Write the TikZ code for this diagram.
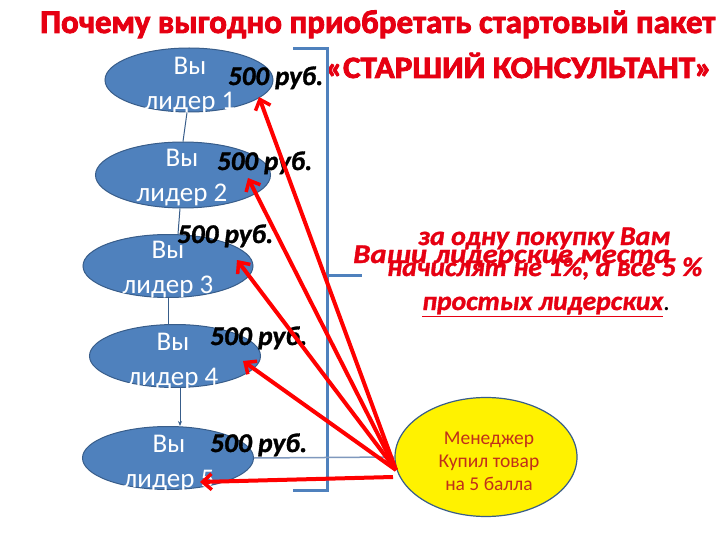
\documentclass[tikz,border=0pt]{standalone}
\usepackage{fontspec}
\setmainfont{Carlito}
\newfontfamily\heavyfont[BoldFeatures={FakeBold=2.5}]{Carlito}
\newfontfamily\semiheavy[BoldFeatures={FakeBold=1.2},BoldItalicFeatures={FakeBold=1.2}]{Carlito}
\usepackage{graphicx}
\usetikzlibrary{shapes.geometric,arrows.meta}
\definecolor{lblue}{HTML}{4F81BD}
\definecolor{dblue}{HTML}{385D8A}
\definecolor{tred}{HTML}{E60012}
\definecolor{mred}{HTML}{C0301A}
\definecolor{gline}{HTML}{7F98BD}
\begin{document}
\begin{tikzpicture}[x=1pt,y=-1pt,
  leader/.style={ellipse, draw=dblue, fill=lblue, line width=1pt, inner sep=0pt},
  ltext/.style={text=white, align=center, font=\fontsize{27}{35}\selectfont},
  rub/.style={font=\fontsize{27}{28}\selectfont\semiheavy\bfseries\itshape, text=black, inner sep=0pt, anchor=base west},
  link/.style={draw=dblue, line width=1pt},
  bracketline/.style={draw=lblue, line width=3pt},
  redarrow/.style={draw=red, line width=4pt, -{Straight Barb[length=9pt,width=16pt,line width=3.5pt]}},
  redtxt/.style={text=tred, font=\fontsize{27}{28}\selectfont\semiheavy\bfseries\itshape, inner sep=0pt, anchor=base west}]
\useasboundingbox (0,0) rectangle (720,540);
\fill[white] (0,0) rectangle (720,540);

% title
\node[text=tred, inner sep=0pt, anchor=base west] (title) at (40,33) {\resizebox{675pt}{\height}{\fontsize{33}{36}\heavyfont\bfseries Почему выгодно приобретать стартовый пакет}};
\node[text=tred, inner sep=0pt, anchor=base west] (title2) at (325,78) {\resizebox{387pt}{\height}{\fontsize{31}{36}\heavyfont\bfseries «СТАРШИЙ КОНСУЛЬТАНТ»}};

% bracket
\draw[bracketline] (293,49) -- (327,49) -- (327,490) -- (293,490);
\draw[bracketline] (327,275) -- (362,275);

% leader ellipses
\node[leader, minimum width=168pt, minimum height=64pt] (e1) at (189,80) {};
\node[leader, minimum width=175pt, minimum height=66pt] (e2) at (183,175) {};
\node[leader, minimum width=170pt, minimum height=63pt] (e3) at (168,266) {};
\node[leader, minimum width=171pt, minimum height=63pt] (e4) at (175,356) {};
\node[leader, minimum width=171pt, minimum height=63pt] (e5) at (168,458) {};

\node[ltext] (l1) at (190,86) {Вы\\лидер 1};
\node[ltext] (l2) at (182,178) {Вы\\лидер 2};
\node[ltext] (l3) at (168,270) {Вы\\лидер 3};
\node[ltext] (l4) at (173,362) {Вы\\лидер 4};
\node[ltext] (l5) at (169,464) {Вы\\лидер 5};

% links between leaders
\draw[link] (e1.south) ++(-2,0) -- (e2.north);
\draw[link] (e2.south) ++(-3,0) -- ([xshift=10pt]e3.north);
\draw[link] (e3.south) -- ([xshift=-7pt]e4.north);
\draw[link, -{Stealth[length=5pt,width=4pt]}] ([xshift=5pt]e4.south) -- ([xshift=12pt]e5.north);

% manager
\node[ellipse, draw=dblue, fill=yellow, line width=1.2pt, minimum width=182pt, minimum height=119pt, inner sep=0pt] (m) at (486,457) {};
\node[text=mred, align=center, font=\fontsize{19.5}{23}\selectfont] (mt) at (489,461) {Менеджер\\Купил товар\\на 5 балла};
\draw[draw=gline, line width=1.5pt] (e5.east) -- (m.west);

% 500 rub labels
\node[rub] (r1) at (228,85) {\resizebox{95pt}{\height}{500 руб.}};
\node[rub] (r2) at (217,170) {\resizebox{95pt}{\height}{500 руб.}};
\node[rub] (r3) at (177,243) {\resizebox{96pt}{\height}{500 руб.}};
\node[rub] (r4) at (210,345) {\resizebox{97pt}{\height}{500 руб.}};
\node[rub] (r5) at (210,452) {\resizebox{97pt}{\height}{500 руб.}};

% red text
\node[redtxt] (q1) at (418,245) {\resizebox{252pt}{\height}{за одну покупку Вам}};
\node[redtxt] (q2) at (353,263) {\resizebox{317pt}{\height}{Ваши лидерские места}};
\node[redtxt] (q3) at (387,276) {\resizebox{315pt}{\height}{начислят не 1\%, а все 5 \%}};
\node[redtxt] (q4) at (422,310) {\underline{\resizebox{241pt}{\height}{простых лидерских}}\textcolor{black}{\normalfont .}};

% red arrows
\coordinate (src) at (396,470);
\coordinate (src5) at (393,477);
\coordinate (t1) at (259,97);
\coordinate (t2) at (248,178);
\coordinate (t3) at (237,260);
\coordinate (t4) at (243,361);
\coordinate (t5) at (200,482);
\draw[redarrow] (src) -- (t1);
\draw[redarrow] (src) -- (t2);
\draw[redarrow] (src) -- (t3);
\draw[redarrow] (src) -- (t4);
\draw[redarrow] (src5) -- (t5);
\end{tikzpicture}
\end{document}
